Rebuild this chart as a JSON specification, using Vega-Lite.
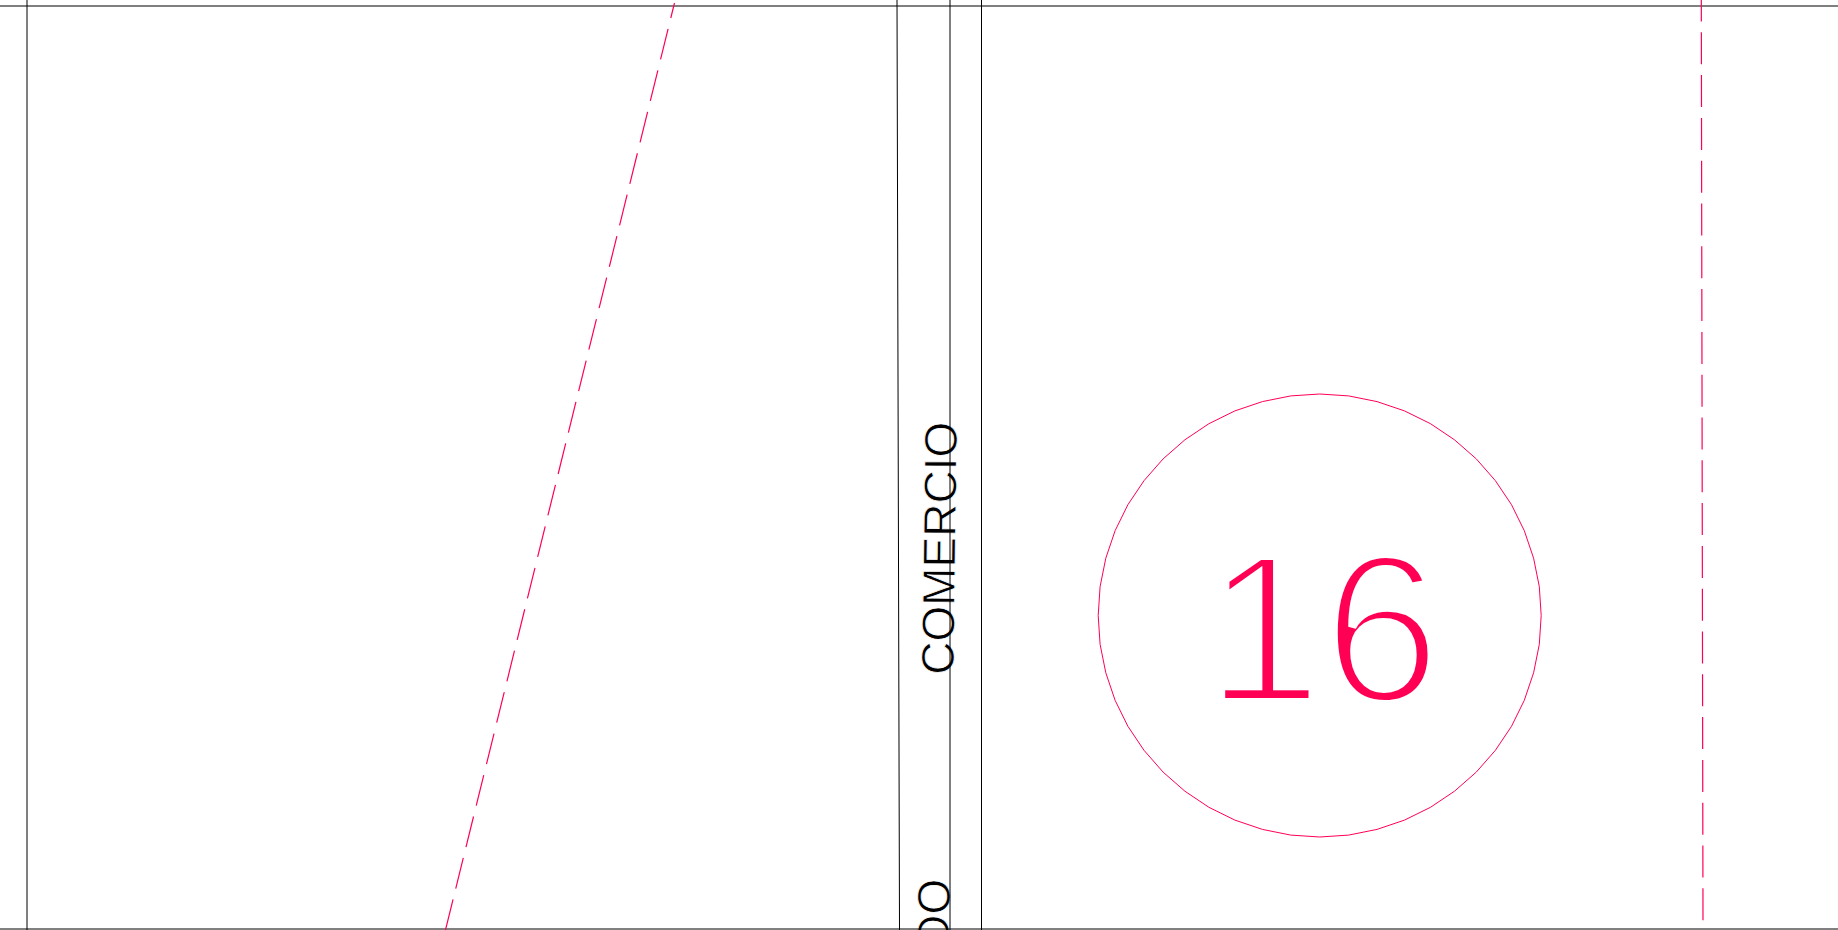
{"$schema":"https://vega.github.io/schema/vega-lite/v6.json","width":1838,"height":930,"autosize":{"type":"fit","contains":"padding"},"padding":0,"background":"white","view":{"stroke":null},"config":{"view":{"stroke":null}},
"datasets":{
"lines":[
{"id":"top","x":0,"y":6},{"id":"top","x":1838,"y":6},
{"id":"bottom","x":0,"y":929},{"id":"bottom","x":1838,"y":929},
{"id":"left","x":27,"y":0},{"id":"left","x":27,"y":930},
{"id":"a","x":897,"y":0},{"id":"a","x":899.5,"y":930},
{"id":"b","x":950,"y":0},{"id":"b","x":950,"y":930},
{"id":"c","x":981.5,"y":0},{"id":"c","x":981.5,"y":930}],
"slant":[{"x":674.5,"y":3},{"x":445.5,"y":930}],
"vert":[{"x":1701.3,"y":0},{"x":1703,"y":922}],
"circle":[
{"o":0,"x":1541.2,"y":615.5},{"o":1,"x":1539.3,"y":644.4},{"o":2,"x":1533.6,"y":672.8},{"o":3,"x":1524.3,"y":700.3},{"o":4,"x":1511.5,"y":726.3},{"o":5,"x":1495.4,"y":750.3},{"o":6,"x":1476.3,"y":772.1},{"o":7,"x":1454.5,"y":791.2},{"o":8,"x":1430.5,"y":807.3},{"o":9,"x":1404.5,"y":820.1},{"o":10,"x":1377,"y":829.4},{"o":11,"x":1348.6,"y":835.1},{"o":12,"x":1319.7,"y":837},
{"o":13,"x":1290.8,"y":835.1},{"o":14,"x":1262.4,"y":829.4},{"o":15,"x":1234.9,"y":820.1},{"o":16,"x":1208.9,"y":807.3},{"o":17,"x":1184.9,"y":791.2},{"o":18,"x":1163.1,"y":772.1},{"o":19,"x":1144,"y":750.3},{"o":20,"x":1127.9,"y":726.3},{"o":21,"x":1115.1,"y":700.3},{"o":22,"x":1105.8,"y":672.8},{"o":23,"x":1100.1,"y":644.4},{"o":24,"x":1098.2,"y":615.5},
{"o":25,"x":1100.1,"y":586.6},{"o":26,"x":1105.8,"y":558.2},{"o":27,"x":1115.1,"y":530.7},{"o":28,"x":1127.9,"y":504.7},{"o":29,"x":1144,"y":480.7},{"o":30,"x":1163.1,"y":458.9},{"o":31,"x":1184.9,"y":439.8},{"o":32,"x":1208.9,"y":423.7},{"o":33,"x":1234.9,"y":410.9},{"o":34,"x":1262.4,"y":401.6},{"o":35,"x":1290.8,"y":395.9},{"o":36,"x":1319.7,"y":394},
{"o":37,"x":1348.6,"y":395.9},{"o":38,"x":1377,"y":401.6},{"o":39,"x":1404.5,"y":410.9},{"o":40,"x":1430.5,"y":423.7},{"o":41,"x":1454.5,"y":439.8},{"o":42,"x":1476.3,"y":458.9},{"o":43,"x":1495.4,"y":480.7},{"o":44,"x":1511.5,"y":504.7},{"o":45,"x":1524.3,"y":530.7},{"o":46,"x":1533.6,"y":558.2},{"o":47,"x":1539.3,"y":586.6},{"o":48,"x":1541.2,"y":615.5}]
},
"encoding":{
"x":{"field":"x","type":"quantitative","scale":{"domain":[0,1838],"nice":false,"zero":false},"axis":null},
"y":{"field":"y","type":"quantitative","scale":{"domain":[930,0],"nice":false,"zero":false},"axis":null}
},
"layer":[
{"data":{"values":[{"label":"COMERCIO","x":953.5,"y":675}]},"mark":{"type":"text","font":"Liberation Sans","fontSize":46,"angle":-89.2,"align":"left","baseline":"alphabetic","color":"#000000","stroke":"#ffffff","strokeWidth":0.8},"encoding":{"text":{"field":"label"}}},
{"data":{"values":[{"label":"DO","x":950,"y":879}]},"mark":{"type":"text","font":"Liberation Sans","fontSize":46,"angle":-89.2,"align":"right","baseline":"alphabetic","color":"#000000","stroke":"#ffffff","strokeWidth":0.8,"clip":true},"encoding":{"text":{"field":"label"}}},
{"data":{"name":"lines"},"mark":{"type":"line","stroke":"#000000","strokeWidth":1,"clip":true},"encoding":{"detail":{"field":"id"}}},
{"data":{"name":"slant"},"mark":{"type":"line","stroke":"#ff0055","strokeWidth":1.2,"strokeDash":[31.5,11.2],"clip":true},"encoding":{}},
{"data":{"name":"vert"},"mark":{"type":"line","stroke":"#ff0055","strokeWidth":1.2,"strokeDash":[32,10.8],"strokeDashOffset":10.5,"clip":true},"encoding":{}},
{"data":{"name":"circle"},"mark":{"type":"line","stroke":"#ff0055","strokeWidth":1},"encoding":{"order":{"field":"o","type":"quantitative"}}},
{"data":{"values":[{"label":"16","x":1323,"y":702}]},"mark":{"type":"text","font":"Liberation Sans","fontSize":212,"align":"center","baseline":"alphabetic","color":"#ff0055","stroke":"#ffffff","strokeWidth":8},"encoding":{"text":{"field":"label"}}}
]}
